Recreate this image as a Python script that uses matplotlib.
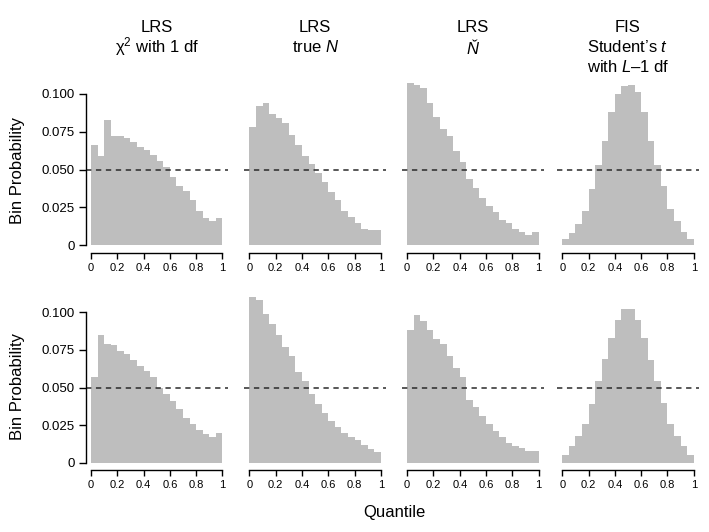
import matplotlib
matplotlib.use('Agg')
import matplotlib.pyplot as plt
import matplotlib.transforms as mtransforms

plt.rcParams['font.family'] = ['Liberation Sans', 'DejaVu Sans']
plt.rcParams['mathtext.fontset'] = 'custom'
plt.rcParams['mathtext.rm'] = 'Liberation Sans'
plt.rcParams['mathtext.it'] = 'Liberation Sans:italic'

# left edges of the 20 quantile bins
bin_left = [0.00, 0.05, 0.10, 0.15, 0.20, 0.25, 0.30, 0.35, 0.40, 0.45,
            0.50, 0.55, 0.60, 0.65, 0.70, 0.75, 0.80, 0.85, 0.90, 0.95]
bin_width = 0.05

# top row
chi2_top = [0.066, 0.059, 0.083, 0.072, 0.072, 0.071, 0.068, 0.065, 0.063, 0.060,
            0.056, 0.052, 0.045, 0.039, 0.036, 0.030, 0.023, 0.018, 0.016, 0.018]
trueN_top = [0.078, 0.092, 0.094, 0.087, 0.084, 0.081, 0.073, 0.066, 0.059, 0.054,
             0.048, 0.042, 0.035, 0.030, 0.023, 0.019, 0.015, 0.011, 0.010, 0.010]
estN_top = [0.107, 0.106, 0.104, 0.094, 0.085, 0.077, 0.072, 0.062, 0.055, 0.044,
            0.038, 0.031, 0.026, 0.022, 0.017, 0.015, 0.011, 0.009, 0.007, 0.009]
fis_top = [0.004, 0.008, 0.014, 0.023, 0.037, 0.053, 0.069, 0.088, 0.100, 0.105,
           0.106, 0.101, 0.088, 0.069, 0.053, 0.039, 0.024, 0.016, 0.009, 0.004]

# bottom row
chi2_bot = [0.057, 0.085, 0.079, 0.078, 0.074, 0.072, 0.068, 0.064, 0.061, 0.057,
            0.050, 0.046, 0.041, 0.036, 0.030, 0.026, 0.022, 0.019, 0.017, 0.020]
trueN_bot = [0.110, 0.108, 0.099, 0.092, 0.085, 0.077, 0.071, 0.060, 0.054, 0.046,
             0.039, 0.033, 0.028, 0.024, 0.020, 0.017, 0.015, 0.012, 0.009, 0.007]
estN_bot = [0.088, 0.098, 0.094, 0.088, 0.082, 0.079, 0.071, 0.063, 0.057, 0.042,
            0.037, 0.031, 0.026, 0.021, 0.017, 0.013, 0.011, 0.010, 0.008, 0.008]
fis_bot = [0.005, 0.011, 0.018, 0.026, 0.039, 0.054, 0.069, 0.083, 0.095, 0.102,
           0.102, 0.095, 0.083, 0.068, 0.054, 0.040, 0.026, 0.018, 0.011, 0.005]

rows = [[chi2_top, trueN_top, estN_top, fis_top],
        [chi2_bot, trueN_bot, estN_bot, fis_bot]]

titles = [['LRS', 'χ$^2$ with 1 df'],
          ['LRS', 'true $N$'],
          ['LRS', '$Ň$'],
          ['FIS', 'Student\u2019s $t$', 'with $L$\u20131 df']]

expected = 0.05
x_ticks = [0, 0.2, 0.4, 0.6, 0.8, 1]
x_ticklabels = ['0', '0.2', '0.4', '0.6', '0.8', '1']
y_ticks = [0, 0.025, 0.050, 0.075, 0.100]
y_ticklabels = ['0', '0.025', '0.050', '0.075', '0.100']

W, H = 709, 532
fig = plt.figure(figsize=(W / 100, H / 100), dpi=100)

lefts = [85.7, 244.2, 401.9, 557.0]
width = 142.0
row_pos = [(252.9, 177.1), (470.2, 175.9)]  # (bottom px from top, height px)
title_y = [27, 47, 67]

for r, row in enumerate(rows):
    bottom_px, height_px = row_pos[r]
    for c, vals in enumerate(row):
        ax = fig.add_axes([lefts[c] / W, 1 - bottom_px / H, width / W, height_px / H])
        ax.bar(bin_left, vals, width=bin_width, align='edge', color='#bebebe',
               linewidth=0)
        ax.axhline(expected, color='#2a2a2a', linewidth=1.1, linestyle=(0, (3.5, 3)))
        ax.set_xlim(-0.04, 1.04)
        ax.set_ylim(-0.005, 0.112)
        for s in ['top', 'right']:
            ax.spines[s].set_visible(False)
        ax.spines['bottom'].set_bounds(0, 1)
        ax.spines['bottom'].set_linewidth(1)
        ax.set_xticks(x_ticks)
        ax.set_xticklabels(x_ticklabels, fontsize=8)
        ax.tick_params(axis='x', length=4, width=1, pad=3)
        if c == 0:
            ax.spines['left'].set_bounds(0, 0.1)
            ax.spines['left'].set_linewidth(1)
            ax.set_yticks(y_ticks)
            ax.set_yticklabels(y_ticklabels, fontsize=9.5)
            ax.tick_params(axis='y', length=5, width=1, pad=3)
        else:
            ax.spines['left'].set_visible(False)
            ax.set_yticks([])
        if r == 0:
            trans = mtransforms.blended_transform_factory(ax.transData, fig.transFigure)
            for i, line in enumerate(titles[c]):
                ax.text(0.5, 1 - title_y[i] / H, line, transform=trans,
                        ha='center', va='center', fontsize=12)

fig.text(17.5 / W, 1 - 170 / H, 'Bin Probability', rotation=90,
         ha='center', va='center', fontsize=12)
fig.text(17.5 / W, 1 - 387 / H, 'Bin Probability', rotation=90,
         ha='center', va='center', fontsize=12)
fig.text(394 / W, 1 - 513 / H, 'Quantile', ha='center', va='center', fontsize=12)

fig.savefig('out.png', dpi=100)
